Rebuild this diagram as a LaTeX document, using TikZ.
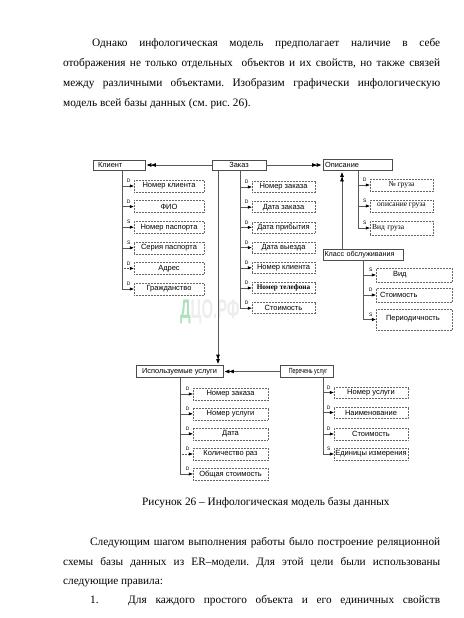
\documentclass[tikz,border=0pt]{standalone}
\usepackage{fontspec}
\usepackage{graphicx}
\setmainfont{Liberation Serif}
\newfontfamily\dsans{Liberation Sans}
\usetikzlibrary{arrows.meta,calc}
\definecolor{wmgreen}{RGB}{172,226,188}
\definecolor{wmgray}{RGB}{236,238,236}
\newcommand\attrow[3]{%
  \draw[conn, attarrow] (#1.west -| #2) -- (#1.west);
  \node[keytag] (#1t) at ($(#1.west)+(-5,-5)$) {#3};}
\newcommand\attrowdot[3]{%
  \draw[conn, attarrow, densely dotted] (#1.west -| #2) -- (#1.west);
  \node[keytag] (#1t) at ($(#1.west)+(-5,-5)$) {#3};}
\frenchspacing
\begin{document}
\begin{tikzpicture}[x=1pt,y=-1pt,
  ent/.style={draw=black!70, fill=white, line width=0.6pt, inner sep=0pt, font=\dsans\fontsize{7.4}{8}\selectfont},
  att/.style={draw=black!60, densely dotted, line width=0.5pt, inner sep=0pt, fill=white, font=\dsans\fontsize{7.5}{8}\selectfont},
  conn/.style={draw=black!65, line width=0.6pt},
  attarrow/.style={-{Triangle[length=4pt,width=3pt,black]}},
  relarrow/.style={-{Triangle[length=4.5pt,width=3.5pt,black]Triangle[length=4.5pt,width=3.5pt,black]}, shorten >=1.5pt},
  keytag/.style={font=\dsans\fontsize{5}{5}\selectfont, inner sep=0pt},
  body/.style={anchor=base west, inner sep=0pt, font=\fontsize{11.3}{13}\selectfont},
  serifatt/.style={font=\rmfamily\fontsize{7.5}{8}\selectfont}
]
\useasboundingbox (0,0) rectangle (463,618);
\fill[white] (0,0) rectangle (463,618);

% watermark
\node[anchor=base west, inner sep=0pt, text=wmgray, xscale=0.55, font=\dsans\bfseries\fontsize{27}{27}\selectfont] (wm) at (180,318) {{\color{wmgreen}Д}ЦО.РФ};

% body text
\node[body] (t1) at (92,47) {\makebox[348pt][s]{Однако инфологическая модель предполагает наличие в себе}};
\node[body] (t2) at (63,66.7) {\makebox[377pt][s]{отображения не только отдельных\ \ объектов и их свойств, но также связей}};
\node[body] (t3) at (63,86.4) {\makebox[377pt][s]{между различными объектами. Изобразим графически инфологическую}};
\node[body] (t4) at (63,106) {модель всей базы данных (см. рис. 26).};

\node[body] (cap) at (142,505) {Рисунок 26 – Инфологическая модель базы данных};
\node[body] (b1) at (90,545) {\makebox[350pt][s]{Следующим шагом выполнения работы было построение реляционной}};
\node[body] (b2) at (63,565) {\makebox[377pt][s]{схемы базы данных из ER–модели. Для этой цели были использованы}};
\node[body] (b3) at (63,584) {следующие правила:};
\node[body] (b4n) at (90,603) {1.};
\node[body] (b4) at (128,603) {\makebox[312pt][s]{Для каждого простого объекта и его единичных свойств}};

% entities
\node[ent, text width=42pt, align=left, inner xsep=5pt, minimum height=10pt] (kl) at (119,165) {Клиент};
\node[ent, minimum width=54pt, minimum height=10pt] (zk) at (239,165) {Заказ};
\node[ent, text width=65pt, align=left, inner xsep=2pt, minimum height=11pt] (op) at (357.5,165) {Описание};
\node[ent, text width=77pt, align=left, inner xsep=1.5pt, minimum height=11pt, font=\dsans\fontsize{7.2}{8}\selectfont] (ko) at (363,254.5) {Класс обслуживания};
\node[ent, minimum width=87pt, minimum height=12pt] (iu) at (179.5,371.5) {Используемые услуги};
\node[ent, minimum width=53pt, minimum height=12pt] (pu) at (306.5,371.5) {\hspace*{3pt}\scalebox{0.72}[1]{Перечень услуг}};

% trunk x positions
\coordinate (klx) at (122,0);
\coordinate (zkx) at (218,0);
\coordinate (zax) at (240,0);
\coordinate (opx) at (358,0);
\coordinate (kox) at (342,0);
\coordinate (kax) at (363,0);
\coordinate (iux) at (180,0);
\coordinate (pux) at (323,0);

% Клиент attributes
\begin{scope}[every node/.append style={att, minimum width=70pt, minimum height=12pt}]
\node (k1) at (169,186) {Номер клиента};
\node (k2) at (169,206.6) {ФИО};
\node (k3) at (169,227.2) {Номер паспорта};
\node (k4) at (169,247.8) {Серия паспорта};
\node (k5) at (169,268.4) {Адрес};
\node (k6) at (169,289) {Гражданство};
\end{scope}

% Заказ attributes
\begin{scope}[every node/.append style={att, minimum width=63pt, minimum height=11pt}]
\node (z1) at (283.5,187) {Номер заказа};
\node (z2) at (283.5,207.2) {Дата заказа};
\node (z3) at (283.5,227.4) {Дата прибытия};
\node (z4) at (283.5,247.6) {Дата выезда};
\node (z5) at (283.5,267.8) {Номер клиента};
\node[font=\rmfamily\bfseries\fontsize{7.2}{8}\selectfont] (z6) at (283.5,288) {Номер телефона};
\node (z7) at (283.5,308.2) {Стоимость};
\end{scope}

% Описание attributes
\node[att, serifatt, minimum width=63pt, minimum height=12pt] (o1) at (401.5,185) {№ груза};
\node[att, serifatt, minimum width=63pt, minimum height=12pt] (o2) at (401.5,206) {описание груза};
\node[att, serifatt, text width=59pt, align=left, inner xsep=2pt, minimum height=14pt] (o3) at (401.5,228) {\raisebox{-3pt}{Вид груза}};

% Класс обслуживания attributes
\node[att, text width=42pt, align=left, inner xsep=17pt, minimum height=14pt] (c1) at (414,275) {Вид};
\node[att, text width=68pt, align=left, inner xsep=4pt, minimum height=14pt] (c2) at (414,295) {\raisebox{-2pt}{Стоимость}};
\node[att, text width=56pt, align=left, inner xsep=10pt, minimum height=21pt] (c3) at (414,319.5) {\raisebox{3.5pt}{Периодичность}};

% Используемые услуги attributes
\begin{scope}[every node/.append style={att, minimum width=75pt, minimum height=12pt}]
\node (i1) at (230.5,394) {Номер заказа};
\node (i2) at (230.5,413.8) {Номер услуги};
\node (i3) at (230.5,433.8) {Дата};
\node (i4) at (230.5,454) {Количество раз};
\node (i5) at (230.5,474) {Общая стоимость};
\end{scope}

% Перечень услуг attributes
\begin{scope}[every node/.append style={att, minimum width=74pt, minimum height=11.5pt}]
\node (p1) at (371,392.5) {Номер услуги};
\node (p2) at (371,412.5) {Наименование};
\node (p3) at (371,434) {Стоимость};
\node (p4) at (371,454) {Единицы измерения};
\end{scope}

% relations between entities
\draw[conn, relarrow] (zk.west) -- (kl.east);
\draw[conn, relarrow] (zk.east) -- (op.west);
\draw[conn, relarrow] (zk.south -| zkx) -- (iu.north -| zkx);
\draw[conn, relarrow] (pu.west) -- (iu.east);
\draw[conn, relarrow] (ko.north -| kox) -- (op.south -| kox);

% trunks
\draw[conn] (kl.south -| klx) -- (k6.west -| klx);
\draw[conn] (zk.south -| zax) -- (z7.west -| zax);
\draw[conn] (op.south -| opx) -- (o3.west -| opx);
\draw[conn] (ko.south -| kax) -- (c3.west -| kax);
\draw[conn] (iu.south -| iux) -- (i5.west -| iux);
\draw[conn] (pu.south -| pux) -- (p4.west -| pux);

% attribute connectors
\attrow{k1}{klx}{D}
\attrow{k2}{klx}{D}
\attrow{k3}{klx}{S}
\attrow{k4}{klx}{S}
\attrowdot{k5}{klx}{D}
\attrow{k6}{klx}{D}

\attrow{z1}{zax}{D}
\attrow{z2}{zax}{D}
\attrow{z3}{zax}{D}
\attrow{z4}{zax}{D}
\attrow{z5}{zax}{D}
\attrow{z6}{zax}{D}
\attrow{z7}{zax}{D}

\attrow{o1}{opx}{D}
\attrow{o2}{opx}{S}
\attrow{o3}{opx}{S}

\attrow{c1}{kax}{S}
\attrow{c2}{kax}{D}
\attrow{c3}{kax}{S}

\attrow{i1}{iux}{D}
\attrow{i2}{iux}{D}
\attrow{i3}{iux}{D}
\attrowdot{i4}{iux}{D}
\attrow{i5}{iux}{D}

\attrow{p1}{pux}{D}
\attrow{p2}{pux}{D}
\attrow{p3}{pux}{D}
\attrow{p4}{pux}{S}
\end{tikzpicture}
\end{document}
